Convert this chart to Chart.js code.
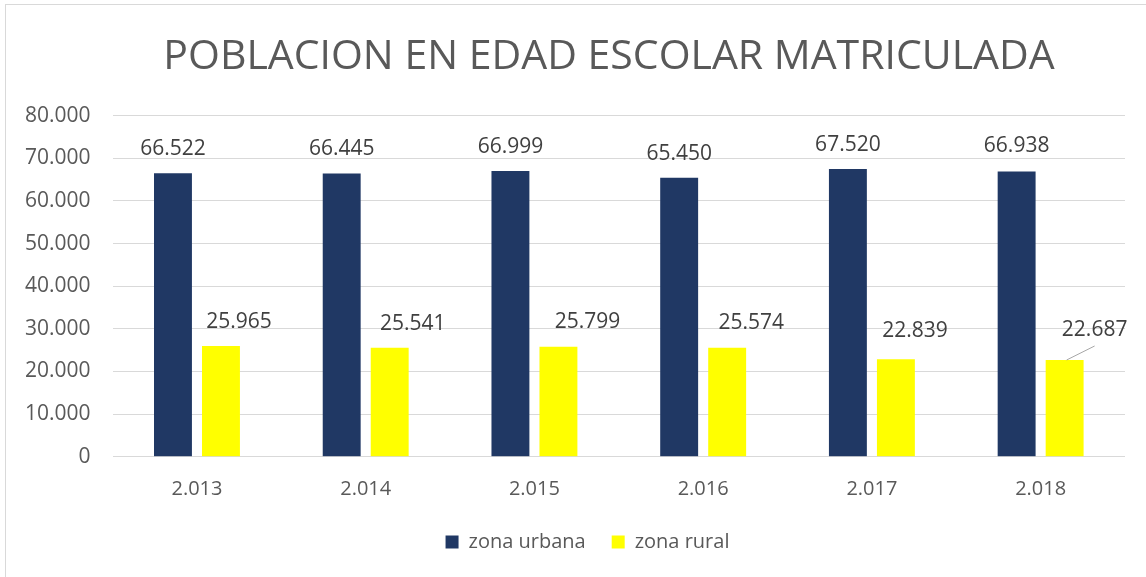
<!DOCTYPE html>
<html>
<head>
<meta charset="utf-8">
<script src="https://cdn.jsdelivr.net/npm/chart.js@4"></script>
<style>
    html, body { margin: 0; padding: 0; background: #fff; }
    #wrap { position: relative; width: 1146px; height: 577px; overflow: hidden; }
    #frame {
        position: absolute; left: 5px; top: 4px; width: 1200px; height: 600px;
        border-left: 1px solid #d9d9d9; border-top: 1px solid #d9d9d9;
    }
    canvas { position: absolute; left: 0; top: 0; }
</style>
</head>
<body>
<div id="wrap">
    <div id="frame"></div>
    <canvas id="realTimeChart" width="1146" height="577"></canvas>
</div>
<script>
// Chart data
const years = ['2.013', '2.014', '2.015', '2.016', '2.017', '2.018'];
const zonaUrbana = [66522, 66445, 66999, 65450, 67520, 66938];
const zonaRural = [25965, 25541, 25799, 25574, 22839, 22687];
const yMax = 80000;
const yStep = 10000;

function formatThousands(v) {
    return String(v).replace(/\B(?=(\d{3})+(?!\d))/g, '.');
}

// Draws the value labels above the bars (Excel-like)
const barLabels = {
    id: 'barLabels',
    afterDatasetsDraw(chart, args, opts) {
        const ctx = chart.ctx;
        ctx.save();
        ctx.font = '21px "Open Sans"';
        ctx.fillStyle = '#404040';
        ctx.textAlign = 'center';
        ctx.textBaseline = 'middle';
        chart.data.datasets.forEach((ds, di) => {
            const meta = chart.getDatasetMeta(di);
            const off = opts.offsets[di];
            meta.data.forEach((bar, i) => {
                const x = bar.x + off.dx[i];
                const y = bar.y + off.dy[i];
                ctx.fillText(formatThousands(ds.data[i]), x, y);
                if (off.leader && off.leader[i]) {
                    ctx.strokeStyle = '#a6a6a6';
                    ctx.lineWidth = 1;
                    ctx.beginPath();
                    ctx.moveTo(bar.x + 2, bar.y);
                    ctx.lineTo(x, y + 16);
                    ctx.stroke();
                }
            });
        });
        ctx.restore();
    }
};

// Title and legend are not centred on the canvas in the original, nudge them
const nudgeBoxes = {
    id: 'nudgeBoxes',
    afterLayout(chart) {
        if (chart.titleBlock) {
            chart.titleBlock.left += 93;
        }
        if (chart.legend) {
            chart.legend.left += 25;
            chart.legend.right += 25;
        }
    }
};

let chart;

function initializeChart() {
    const ctx = document.getElementById('realTimeChart').getContext('2d');
    chart = new Chart(ctx, {
        type: 'bar',
        data: {
            labels: years,
            datasets: [
                {
                    label: 'zona urbana',
                    data: zonaUrbana,
                    backgroundColor: '#203864',
                    borderWidth: 0
                },
                {
                    label: 'zona rural',
                    data: zonaRural,
                    backgroundColor: '#ffff00',
                    borderWidth: 0
                }
            ]
        },
        options: {
            responsive: false,
            animation: false,
            devicePixelRatio: 1,
            categoryPercentage: 0.569,
            barPercentage: 0.79,
            layout: {
                padding: { left: 0, right: 21, top: 0, bottom: 15 }
            },
            scales: {
                x: {
                    grid: { display: false, drawTicks: false },
                    border: { display: false },
                    afterFit: (scale) => {
                        scale.height = 49.3;
                    },
                    ticks: {
                        padding: 21,
                        color: '#595959',
                        font: { family: 'Open Sans', size: 20 }
                    }
                },
                y: {
                    min: 0,
                    max: yMax,
                    afterFit: (scale) => {
                        scale.width = 112.6;
                    },
                    grid: { color: '#d9d9d9', lineWidth: 1, drawTicks: false },
                    border: { display: false },
                    ticks: {
                        stepSize: yStep,
                        padding: 22,
                        color: '#595959',
                        font: { family: 'Open Sans', size: 21 },
                        callback: (v) => formatThousands(v)
                    }
                }
            },
            plugins: {
                title: {
                    display: true,
                    text: 'POBLACION EN EDAD ESCOLAR MATRICULADA',
                    color: '#595959',
                    font: { family: 'Open Sans', size: 41, weight: 'normal', lineHeight: 1.2 },
                    padding: { top: 33, bottom: 33.5 }
                },
                legend: {
                    position: 'bottom',
                    labels: {
                        boxWidth: 13,
                        boxHeight: 13,
                        padding: 26,
                        color: '#595959',
                        font: { family: 'Open Sans', size: 20 }
                    }
                },
                tooltip: { enabled: false },
                barLabels: {
                    offsets: [
                        { dx: [0, 0, 0, 0, 0, 0], dy: [-24, -24, -24, -24, -24, -25] },
                        { dx: [18, 23, 29, 24, 19, 30], dy: [-24, -24, -25, -25, -28, -30],
                          leader: [false, false, false, false, false, true] }
                    ]
                }
            }
        },
        plugins: [barLabels, nudgeBoxes]
    });
}

window.onload = initializeChart;
</script>
</body>
</html>
